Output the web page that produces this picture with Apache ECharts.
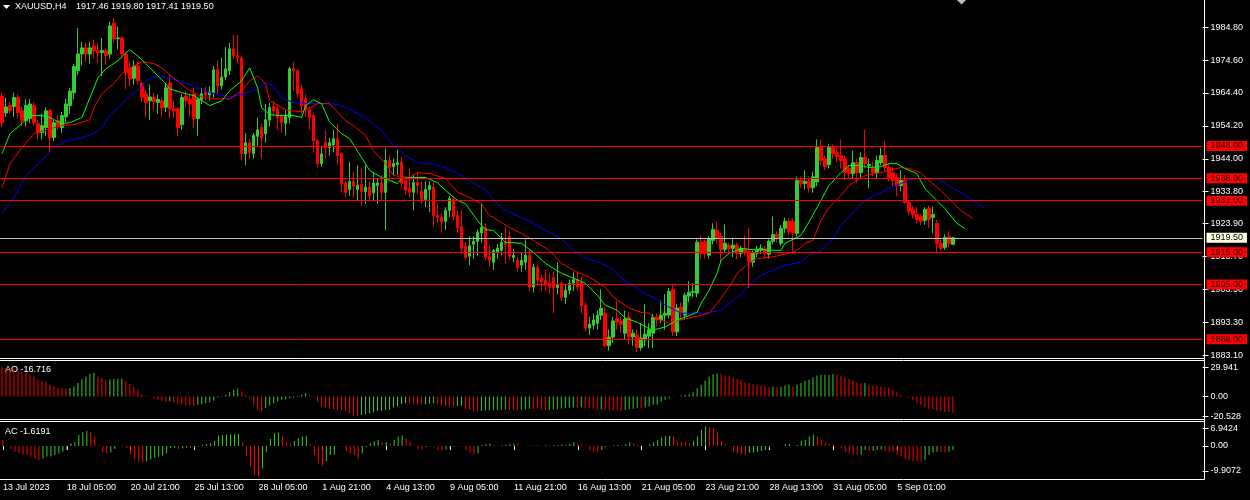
<!DOCTYPE html>
<html><head><meta charset="utf-8">
<script src="https://cdn.jsdelivr.net/npm/echarts@6/dist/echarts.min.js"></script>
<style>html,body{margin:0;padding:0;background:#000;}#c{width:1250px;height:500px;}</style>
</head><body><div id="c"></div>
<script>
// ---------- DATA ----------
const SYMBOL = 'XAUUSD,H4';
const TICK_LABELS = ['13 Jul 2023','18 Jul 05:00','20 Jul 21:00','25 Jul 13:00','28 Jul 05:00','1 Aug 21:00','4 Aug 13:00','9 Aug 05:00','11 Aug 21:00','16 Aug 13:00','21 Aug 05:00','23 Aug 21:00','28 Aug 13:00','31 Aug 05:00','5 Sep 01:00'];
const PRICE_TICKS = [1984.80,1974.60,1964.40,1954.20,1944.00,1933.80,1923.90,1913.70,1903.50,1893.30,1883.10];
const AO_TICKS = [29.941, 0, -20.528];
const AC_TICKS = [6.9424, 0, -9.9072];
const LEVELS = [1948.00,1938.00,1931.00,1915.00,1905.00,1888.00];
// [open, close, high, low]
const CANDLES = [
[1963.5,1955.2,1964.5,1953.8],[1958.2,1960.1,1963.0,1957.0],[1960.5,1959.0,1961.5,1958.0],[1960.2,1963.0,1964.5,1957.0],
[1963.0,1958.3,1964.0,1956.4],[1958.9,1955.8,1960.0,1954.3],[1955.8,1960.5,1962.5,1954.0],[1956.5,1961.0,1962.5,1955.0],
[1960.5,1955.2,1961.5,1954.5],[1954.9,1952.1,1956.0,1950.0],[1952.1,1954.3,1958.0,1950.0],[1953.7,1958.9,1960.0,1951.0],
[1958.9,1950.6,1959.5,1945.9],[1950.6,1955.2,1956.0,1949.5],[1955.8,1954.3,1957.5,1953.0],[1953.7,1957.4,1958.5,1952.0],
[1957.0,1961.0,1962.6,1955.5],[1960.5,1965.0,1966.0,1958.0],[1964.5,1972.6,1973.5,1962.5],[1971.3,1976.5,1984.6,1970.0],
[1976.5,1978.4,1980.3,1973.0],[1978.4,1976.5,1980.0,1974.0],[1976.5,1978.4,1980.3,1973.5],[1979.0,1977.5,1981.0,1975.0],
[1977.5,1976.9,1980.0,1973.7],[1977.0,1977.6,1981.5,1969.7],[1977.5,1976.0,1978.0,1973.0],[1976.5,1985.2,1986.5,1975.0],
[1986.0,1981.2,1987.7,1980.0],[1981.2,1981.5,1985.0,1978.0],[1981.5,1976.5,1982.0,1975.0],[1976.5,1970.7,1977.0,1965.7],
[1972.2,1968.8,1974.0,1966.5],[1969.0,1972.8,1974.5,1967.0],[1972.8,1968.2,1974.0,1967.0],[1967.3,1963.0,1968.0,1961.5],
[1964.2,1961.4,1965.5,1956.8],[1962.0,1963.2,1967.0,1956.0],[1963.0,1961.7,1964.5,1959.0],[1961.5,1962.4,1964.0,1958.0],
[1962.0,1959.9,1963.0,1957.0],[1960.0,1966.0,1967.5,1958.5],[1967.5,1959.5,1970.0,1956.5],[1959.5,1958.9,1962.0,1956.8],
[1959.5,1953.7,1960.0,1951.0],[1954.6,1963.0,1964.0,1953.0],[1963.5,1962.0,1965.0,1960.0],[1962.3,1961.0,1964.0,1957.0],
[1964.0,1956.5,1966.0,1953.4],[1956.5,1962.5,1963.0,1951.0],[1962.3,1964.2,1966.0,1961.0],[1964.8,1963.8,1966.3,1962.0],
[1963.8,1964.8,1966.5,1962.0],[1964.5,1971.6,1972.8,1963.0],[1971.6,1966.6,1974.4,1964.0],[1966.6,1969.4,1975.3,1965.5],
[1969.4,1971.9,1978.7,1968.5],[1971.3,1978.1,1980.0,1970.0],[1978.1,1976.0,1982.4,1975.0],[1976.0,1975.3,1982.4,1973.5],
[1975.3,1945.6,1976.0,1943.5],[1945.6,1949.0,1952.0,1942.0],[1949.0,1946.0,1950.0,1944.0],[1945.6,1951.2,1952.0,1944.0],
[1951.0,1953.0,1956.8,1948.0],[1953.7,1950.6,1955.0,1944.0],[1951.8,1956.1,1961.0,1949.0],[1956.0,1959.9,1961.4,1954.0],
[1960.2,1958.9,1962.0,1957.0],[1959.5,1956.8,1961.0,1953.0],[1957.4,1955.2,1958.0,1952.0],[1955.0,1957.4,1959.0,1951.2],
[1956.8,1971.9,1972.5,1955.0],[1971.9,1971.3,1974.0,1965.0],[1971.3,1964.2,1972.0,1963.0],[1965.7,1960.5,1967.0,1958.0],
[1962.6,1959.5,1964.0,1957.0],[1959.2,1956.8,1960.0,1953.0],[1957.4,1949.6,1958.0,1946.0],[1949.6,1942.5,1950.0,1941.3],
[1942.5,1945.5,1948.0,1941.5],[1949.0,1947.5,1953.0,1944.0],[1947.5,1949.0,1950.5,1945.0],[1948.3,1950.2,1953.0,1946.0],
[1950.2,1945.0,1954.9,1942.0],[1945.6,1936.3,1946.0,1933.5],[1936.5,1933.6,1937.0,1932.0],[1934.5,1937.0,1943.0,1932.5],
[1937.0,1935.5,1940.0,1932.0],[1934.5,1935.8,1942.0,1930.8],[1936.0,1933.8,1941.0,1929.5],[1933.8,1935.2,1942.0,1930.0],
[1935.2,1932.6,1937.0,1931.0],[1933.5,1936.5,1940.0,1931.0],[1935.7,1936.5,1938.0,1930.0],[1936.5,1933.6,1939.0,1931.0],
[1933.6,1943.5,1947.2,1921.8],[1943.5,1941.3,1945.0,1937.3],[1941.5,1942.5,1944.0,1939.0],[1942.2,1942.8,1946.8,1939.0],
[1943.0,1936.4,1944.5,1935.0],[1937.3,1934.2,1938.0,1933.0],[1934.8,1933.6,1941.0,1932.0],[1933.6,1936.6,1939.0,1928.0],
[1936.6,1935.7,1940.0,1933.0],[1933.9,1931.4,1937.0,1930.0],[1931.4,1934.5,1937.0,1929.0],[1934.5,1935.7,1937.0,1927.5],
[1935.2,1926.4,1937.0,1923.0],[1926.4,1925.8,1930.0,1924.0],[1925.8,1924.3,1927.0,1921.0],[1924.6,1928.0,1929.0,1922.0],
[1928.0,1931.7,1932.5,1926.0],[1931.4,1926.1,1932.0,1925.0],[1926.4,1922.7,1928.0,1921.0],[1923.0,1916.2,1928.0,1915.0],
[1916.9,1913.4,1918.0,1912.5],[1913.8,1917.0,1920.0,1911.0],[1917.5,1918.4,1920.0,1913.0],[1918.4,1921.2,1922.0,1914.0],
[1921.0,1922.7,1930.2,1918.0],[1922.7,1913.5,1924.0,1912.5],[1913.8,1912.5,1917.0,1910.5],[1911.9,1915.6,1916.0,1909.5],
[1915.0,1916.3,1917.5,1913.0],[1915.6,1918.1,1921.0,1914.0],[1918.1,1917.5,1922.8,1911.5],[1919.9,1913.8,1921.5,1912.5],
[1913.4,1914.0,1916.0,1912.0],[1912.5,1910.3,1913.5,1909.0],[1911.0,1912.5,1915.0,1909.0],[1911.9,1914.1,1919.0,1909.5],
[1914.1,1904.2,1916.0,1903.0],[1904.2,1910.3,1911.5,1902.5],[1910.3,1906.3,1911.0,1905.0],[1907.0,1905.7,1908.0,1903.0],
[1906.3,1904.8,1909.5,1903.0],[1905.4,1904.2,1908.5,1902.0],[1907.2,1903.9,1909.0,1896.1],[1904.0,1905.0,1911.9,1902.0],
[1905.4,1901.0,1906.0,1900.0],[1901.0,1903.2,1905.0,1899.0],[1903.2,1905.4,1906.5,1902.0],[1905.4,1906.5,1909.0,1903.0],
[1906.6,1904.2,1909.0,1903.0],[1905.7,1898.3,1907.5,1896.0],[1898.6,1891.5,1899.5,1890.5],[1891.5,1892.7,1895.0,1889.3],
[1892.4,1894.0,1896.0,1891.0],[1893.0,1895.5,1897.0,1891.0],[1895.5,1897.6,1903.5,1894.0],[1896.1,1886.0,1898.0,1885.5],
[1886.0,1888.7,1891.0,1884.5],[1888.7,1893.7,1895.0,1887.0],[1894.3,1893.4,1900.0,1891.0],[1893.7,1892.7,1895.0,1890.0],
[1889.9,1894.3,1897.0,1888.0],[1894.9,1888.7,1896.5,1886.5],[1888.7,1889.9,1891.0,1886.0],[1889.3,1885.4,1891.0,1884.0],
[1885.4,1888.4,1893.0,1884.5],[1887.8,1889.6,1898.9,1886.0],[1889.0,1891.0,1893.0,1885.3],[1889.9,1894.9,1896.0,1885.3],
[1894.9,1894.0,1896.0,1892.0],[1894.0,1895.5,1900.0,1893.0],[1895.5,1896.1,1902.0,1891.0],[1895.5,1902.9,1904.0,1894.5],
[1903.5,1890.3,1905.0,1889.0],[1890.3,1897.7,1899.0,1889.0],[1898.0,1896.1,1899.5,1894.0],[1895.5,1901.7,1902.5,1894.0],
[1901.4,1902.6,1906.0,1899.5],[1902.6,1902.9,1905.4,1901.0],[1902.3,1918.1,1919.0,1901.0],[1918.1,1914.7,1920.2,1913.0],
[1918.4,1914.7,1919.0,1913.0],[1914.1,1919.3,1920.0,1913.0],[1918.7,1922.1,1924.0,1917.5],[1921.8,1919.6,1924.5,1918.0],
[1920.0,1915.9,1921.0,1911.6],[1915.9,1917.8,1923.6,1915.0],[1917.2,1916.2,1918.0,1914.5],[1916.2,1917.2,1919.5,1913.5],
[1917.2,1914.7,1918.0,1912.8],[1914.7,1916.2,1917.0,1913.5],[1916.2,1915.0,1920.2,1914.0],[1915.3,1912.2,1922.4,1903.9],
[1911.9,1914.7,1915.5,1910.5],[1914.7,1915.6,1917.0,1913.5],[1915.6,1916.2,1917.5,1914.5],[1916.0,1914.7,1917.0,1913.0],
[1914.4,1918.4,1919.0,1913.0],[1918.4,1920.5,1926.1,1917.5],[1920.5,1919.6,1921.5,1918.0],[1917.8,1922.4,1923.5,1917.0],
[1922.4,1924.6,1925.8,1921.0],[1924.6,1921.5,1925.5,1920.5],[1924.6,1920.9,1925.5,1914.7],[1920.9,1937.3,1938.5,1920.0],
[1937.3,1936.3,1938.5,1935.0],[1936.3,1937.0,1940.5,1934.5],[1937.0,1935.0,1938.5,1933.5],[1935.0,1938.4,1940.0,1933.5],
[1936.8,1947.5,1950.0,1935.5],[1947.5,1943.5,1949.9,1942.0],[1944.0,1941.6,1945.0,1940.5],[1942.2,1947.5,1948.5,1941.0],
[1947.5,1945.6,1948.5,1944.0],[1946.0,1944.7,1947.5,1943.0],[1945.0,1943.5,1950.0,1941.0],[1944.0,1939.7,1945.0,1937.5],
[1941.0,1939.4,1942.0,1938.0],[1939.4,1942.8,1946.5,1938.0],[1942.8,1939.7,1944.0,1936.5],[1939.7,1944.4,1946.0,1938.0],
[1944.4,1942.5,1953.0,1941.0],[1941.9,1942.2,1944.0,1934.8],[1941.3,1939.7,1943.0,1938.5],[1939.7,1943.5,1945.0,1938.0],
[1942.8,1945.0,1947.5,1942.0],[1945.0,1941.3,1949.5,1940.0],[1941.3,1938.2,1942.5,1937.0],[1939.7,1937.3,1941.5,1935.5],
[1938.2,1935.7,1939.5,1932.5],[1935.7,1937.3,1940.5,1934.0],[1937.3,1930.5,1939.0,1930.0],[1930.5,1927.7,1931.0,1926.5],
[1928.3,1926.7,1929.5,1925.5],[1926.7,1925.2,1929.0,1924.0],[1926.1,1924.6,1927.0,1923.5],[1924.9,1928.3,1929.0,1923.5],
[1928.6,1925.2,1929.5,1922.6],[1925.8,1926.7,1929.2,1920.9],[1924.0,1917.8,1925.0,1915.0],[1917.8,1916.2,1919.0,1915.5],
[1916.5,1919.6,1920.5,1915.8],[1919.9,1917.8,1921.5,1916.5],[1917.46,1919.50,1919.80,1917.41]
];
// Alligator lines, [bar index, price] (lines are shifted forward)
const LIPS = [[0,1945.6],[2,1951.8],[5,1954.9],[7,1957.4],[10,1957.4],[12,1956.8],[15,1954.9],[17,1955.2],[20,1956.8],[22,1962.9],[24,1969.1],[26,1971.9],[29,1974.4],[31,1976.9],[32,1977.8],[34,1975.9],[36,1973.5],[39,1969.7],[41,1967.3],[42,1965.7],[45,1964.5],[48,1963.6],[52,1960.5],[55,1962.0],[57,1965.1],[60,1968.2],[62,1972.2],[64,1966.0],[65,1959.8],[67,1957.7],[70,1957.4],[73,1957.4],[75,1956.8],[76,1960.5],[78,1962.3],[80,1961.1],[82,1955.4],[85,1951.8],[87,1950.3],[90,1944.4],[92,1940.4],[95,1938.2],[97,1937.3],[99,1936.3],[100,1937.9],[103,1938.2],[106,1938.2],[109,1936.6],[111,1934.2],[114,1931.1],[116,1930.1],[119,1924.9],[121,1922.0],[123,1921.8],[126,1918.1],[130,1917.8],[133,1915.0],[136,1911.6],[140,1908.5],[143,1907.0],[146,1905.4],[149,1901.7],[151,1898.6],[154,1897.0],[156,1894.6],[159,1893.3],[162,1891.3],[163,1890.9],[166,1891.8],[169,1894.0],[171,1894.9],[174,1896.4],[175,1899.2],[177,1903.2],[179,1908.5],[180,1912.5],[182,1914.7],[185,1916.2],[187,1915.9],[190,1915.9],[193,1915.6],[195,1915.6],[196,1917.8],[199,1919.6],[200,1920.3],[202,1924.4],[205,1931.1],[207,1935.7],[210,1939.7],[212,1941.9],[215,1941.9],[217,1941.3],[220,1941.6],[222,1942.5],[224,1942.5],[226,1941.0],[229,1939.4],[231,1934.8],[234,1931.1],[236,1928.6],[239,1924.0],[241,1922.4]];
const TEETH = [[0,1935.1],[2,1942.5],[5,1947.5],[8,1951.8],[12,1953.3],[15,1954.3],[18,1954.6],[22,1956.1],[23,1959.8],[25,1964.2],[28,1967.3],[30,1970.4],[33,1972.8],[35,1974.1],[38,1973.5],[40,1972.2],[43,1969.0],[47,1965.1],[50,1963.2],[53,1962.6],[57,1962.6],[60,1965.1],[62,1968.2],[64,1969.7],[66,1967.3],[67,1962.0],[70,1959.8],[72,1958.9],[75,1958.6],[77,1959.8],[79,1961.1],[82,1961.1],[86,1955.8],[88,1954.3],[91,1951.2],[93,1946.5],[96,1942.5],[98,1938.8],[102,1938.2],[104,1939.7],[107,1939.4],[111,1937.9],[114,1933.6],[117,1932.0],[120,1930.1],[122,1926.4],[123,1925.8],[127,1922.7],[130,1920.9],[133,1918.7],[137,1915.6],[140,1911.6],[144,1908.8],[147,1907.3],[151,1904.2],[153,1901.1],[157,1897.7],[160,1896.4],[162,1896.1],[163,1894.9],[167,1893.0],[170,1894.0],[173,1894.9],[177,1896.1],[179,1899.2],[182,1904.2],[184,1908.5],[187,1911.6],[189,1913.1],[192,1913.4],[195,1914.1],[198,1915.0],[200,1916.5],[201,1917.8],[203,1918.7],[205,1924.9],[207,1928.9],[210,1932.6],[212,1935.7],[215,1938.2],[217,1939.1],[220,1939.7],[222,1940.4],[225,1941.3],[227,1941.0],[230,1939.7],[232,1937.3],[235,1934.2],[237,1931.7],[240,1928.0],[243,1925.5]];
const JAW = [[0,1927.1],[3,1932.0],[6,1938.8],[10,1943.5],[13,1947.5],[16,1949.6],[20,1950.6],[23,1951.8],[25,1953.7],[27,1957.4],[30,1961.1],[32,1963.6],[35,1966.0],[36,1968.2],[38,1969.4],[40,1969.4],[43,1968.8],[48,1966.6],[52,1964.5],[57,1963.2],[60,1963.9],[64,1965.7],[66,1967.6],[68,1966.6],[70,1962.9],[73,1961.4],[77,1961.1],[80,1961.1],[82,1961.4],[86,1960.0],[89,1958.0],[92,1955.8],[95,1952.7],[98,1948.1],[101,1945.0],[104,1942.8],[107,1942.5],[111,1941.3],[115,1938.8],[119,1935.7],[121,1934.5],[123,1931.1],[126,1928.0],[130,1925.8],[133,1924.0],[136,1921.8],[140,1919.3],[143,1915.6],[146,1913.4],[150,1911.6],[153,1909.7],[155,1907.0],[159,1903.9],[161,1902.0],[163,1901.1],[166,1898.6],[170,1896.1],[173,1896.1],[176,1896.1],[180,1897.0],[182,1899.2],[185,1901.7],[187,1904.8],[190,1907.9],[193,1909.4],[196,1911.0],[200,1911.9],[202,1914.1],[205,1915.6],[208,1919.3],[210,1923.4],[213,1927.1],[215,1930.2],[218,1932.3],[221,1934.2],[225,1936.3],[228,1937.9],[231,1937.9],[234,1937.9],[237,1935.7],[240,1933.5],[243,1931.1],[246,1928.6]];
const AO = [
29.941,29.2,28.6,27.5,25.8,25.5,24.1,22.4,20.6,17.2,
15.5,14.8,12.0,10.3,8.6,8.4,7.9,8.6,10.3,13.8,
18.2,20.6,23.0,24.1,20.6,18.9,17.2,17.4,17.9,18.2,
18.4,15.5,12.7,9.6,6.9,2.4,1.0,0.2,-1.7,-3.4,
-4.5,-5.2,-5.0,-5.8,-6.9,-7.9,-8.6,-9.3,-9.5,-8.6,
-7.9,-6.9,-5.8,-4.5,-1.0,0.3,1.7,4.5,6.9,7.9,
5.8,1.7,-1.7,-8.6,-13.8,-15.5,-12.0,-9.3,-6.9,-5.2,
-3.4,-2.8,-1.7,-1.0,0.5,1.7,3.4,1.7,-0.7,-5.2,
-10.3,-11.4,-12.6,-12.8,-13.7,-13.9,-14.8,-17.2,-19.6,-20.528,
-18.9,-18.2,-17.2,-16.2,-14.9,-14.7,-13.8,-13.6,-11.4,-10.3,
-7.6,-6.6,-6.8,-7.4,-8.1,-8.3,-7.9,-7.2,-6.9,-7.9,
-9.2,-10.3,-10.5,-10.6,-9.8,-9.5,-12.7,-13.7,-14.7,-15.4,
-14.8,-14.5,-14.2,-14.0,-13.8,-13.5,-13.3,-13.6,-13.8,-14.0,
-13.5,-13.0,-12.6,-12.8,-13.2,-13.5,-13.8,-13.5,-13.2,-12.8,
-12.4,-12.0,-11.6,-11.4,-11.6,-11.0,-11.5,-12.2,-12.8,-13.3,
-13.0,-13.3,-13.6,-13.9,-14.1,-14.5,-13.8,-13.2,-12.6,-12.0,
-12.2,-11.3,-10.3,-8.6,-7.9,-5.1,-3.4,-1.7,-0.2,0.1,
1.0,1.7,2.4,4.4,8.5,11.9,16.1,20.5,22.9,23.9,
23.3,21.6,21.5,19.5,18.1,17.1,14.7,13.7,12.7,12.0,
11.3,10.6,9.9,10.2,9.8,10.3,11.3,12.0,10.3,12.0,
13.7,16.1,17.1,19.8,21.5,22.2,22.3,22.4,23.0,22.9,
21.5,19.8,18.1,16.1,14.7,13.7,13.8,12.0,11.3,10.9,
10.3,9.2,8.6,6.8,4.4,1.7,0.3,-1.2,-3.4,-6.8,
-8.6,-11.0,-12.6,-13.4,-14.4,-15.2,-15.8,-16.3,-16.716];
const AC = [
2.4,0.2,-1.2,-2.3,-3.0,-3.4,-3.6,-4.3,-5.0,-5.7,
-5.0,-4.3,-4.2,-3.6,-3.0,-2.3,-1.6,1.1,1.5,4.5,
5.5,6.1,5.5,3.8,0.4,-2.3,-3.0,-2.6,-1.2,-0.1,
-0.3,-0.9,-3.4,-5.3,-6.3,-6.6,-6.1,-5.3,-4.7,-4.3,
-3.9,-3.0,-0.9,-0.7,-1.2,-0.9,-0.7,-0.9,-0.6,-0.3,
0.4,0.7,1.1,2.0,4.2,4.4,4.5,4.6,4.7,4.8,
1.5,-3.9,-8.4,-11.5,-12.0,-9.0,-2.3,2.8,5.1,5.4,
3.8,1.5,1.1,2.0,3.1,3.8,3.9,0.7,-3.6,-7.0,
-8.0,-6.1,-3.6,-3.4,-0.1,-0.2,-2.0,-3.0,-3.6,-5.0,
-3.0,-0.5,1.1,2.0,2.4,1.5,1.6,1.1,2.4,3.8,
4.2,3.1,1.5,0.2,-1.2,-1.6,-0.4,-0.1,-0.3,-1.6,
-1.7,-1.4,-0.9,-0.3,-0.1,-0.2,-1.6,-2.6,-3.4,-3.0,
0.4,0.7,1.0,0.3,0.1,0.3,0.5,0.7,1.0,0.9,
0.2,0.1,-0.3,0.1,0.2,0.1,0.3,0.2,0.3,0.4,
0.6,0.5,0.9,1.5,1.0,0.7,0.1,-1.6,-2.3,-2.6,
-1.6,-0.4,0.1,0.3,0.4,0.3,0.7,1.5,1.0,0.4,
0.1,0.05,0.7,1.5,2.4,3.4,3.9,4.1,4.0,1.8,
1.5,1.4,1.1,2.0,3.8,6.5,7.8,7.4,7.3,5.5,
2.0,0.4,-0.3,-2.3,-3.0,-3.4,-3.5,-2.7,-2.6,-2.3,
-2.0,-1.6,-0.9,0.1,0.05,0.1,0.7,0.8,0.1,0.4,
2.0,2.4,3.8,4.5,3.8,2.4,1.1,0.7,0.6,0.1,
-0.9,-2.3,-3.0,-3.4,-3.6,-3.4,-1.6,-2.0,-1.9,-1.6,
-1.4,-2.0,-2.3,-2.6,-3.6,-4.3,-5.3,-5.7,-6.1,-6.2,
-6.3,-5.7,-3.6,-2.6,-2.3,-2.5,-2.6,-2.2,-1.6191];

// ---------- CHART ----------
const SLOTS = 301;           // bar slots across the window (incl. empty right margin)
const FONT = 'Liberation Sans';
const FG = '#ffffff';
const FRAME = '#fffff0';
const BULL = '#32cd32', BEAR = '#ff0000';
const cats = Array.from({length: SLOTS}, (_, i) => String(i));
const isTick = (i) => i % 16 === 0 && (i / 16) < TICK_LABELS.length;
function toSlots(pairs) { const a = new Array(SLOTS).fill(null); pairs.forEach(([i, v]) => { a[i] = v; }); return a; }
// split a histogram into rising (green) and falling (red) parts
const rising = (arr) => arr.map((v, i) => (i > 0 && v > arr[i - 1]) ? v : '-');
const falling = (arr) => arr.map((v, i) => (i > 0 && v > arr[i - 1]) ? '-' : v);
const last = CANDLES[CANDLES.length - 1];
const LAST_PRICE = last[1];

const chart = echarts.init(document.getElementById('c'), null, { renderer: 'canvas' });
// 301 slots x 4 px = 1204 px plot width; slot centres fall on x = 4i + 0.5
const gridBase = { left: -1.5, right: 47.5, show: false };
const lblStyle = { color: FG, fontSize: 9, fontFamily: FONT };

const levelLines = LEVELS.map(p => ({
  yAxis: p,
  lineStyle: { color: '#ff0000', width: 1, type: 'solid' },
  label: { show: true, position: 'end', distance: 4, formatter: p.toFixed(2), backgroundColor: '#ff0000', color: '#200000', padding: [1, 4, 0, 4], fontSize: 9, fontFamily: FONT }
}));
levelLines.push({
  yAxis: LAST_PRICE,
  lineStyle: { color: '#c0c0c0', width: 1, type: 'solid' },
  label: { show: true, position: 'end', distance: 4, formatter: LAST_PRICE.toFixed(2), backgroundColor: '#ffffe0', color: '#000000', padding: [1, 4, 0, 4], fontSize: 9, fontFamily: FONT }
});

// window frame (decoration lines)
const FR_R = 1204.5;
const frameLines = [
  [[FR_R, 0], [FR_R, 479.5]],
  [[0, 358.5], [FR_R, 358.5]],
  [[0, 360.5], [FR_R, 360.5]],
  [[0, 419.5], [FR_R, 419.5]],
  [[0, 421.5], [FR_R, 421.5]],
  [[0, 479.5], [FR_R, 479.5]]
].map(([a, b]) => ({ type: 'line', silent: true, z: 100, shape: { x1: a[0], y1: a[1], x2: b[0], y2: b[1] }, style: { stroke: FRAME, lineWidth: 1 } }));

function histo(arr, idx) {
  const base = { type: 'bar', xAxisIndex: idx, yAxisIndex: idx, barWidth: 1, barGap: '-100%', silent: true,
    large: true, largeThreshold: 10, emphasis: { disabled: true }, animation: false };
  return [
    Object.assign({}, base, { data: rising(arr), itemStyle: { color: BULL, borderWidth: 0, opacity: 1 } }),
    Object.assign({}, base, { data: falling(arr), itemStyle: { color: BEAR, borderWidth: 0, opacity: 1 } })
  ];
}

const option = {
  backgroundColor: '#000000',
  animation: false,
  grid: [
    Object.assign({ top: -1, height: 359 }, gridBase),
    Object.assign({ top: 360, height: 59 }, gridBase),
    Object.assign({ top: 421, height: 58 }, gridBase)
  ],
  xAxis: [0, 1, 2].map(g => ({
    type: 'category', gridIndex: g, data: cats, boundaryGap: true, show: g === 2,
    axisLine: { show: false },
    axisTick: { show: true, length: 4, alignWithLabel: true, interval: (i) => isTick(i), lineStyle: { color: FRAME } },
    axisLabel: Object.assign({ interval: (i) => isTick(i), formatter: (v, i) => TICK_LABELS[i / 16] || '', align: 'left', margin: 4 }, lblStyle),
    splitLine: { show: false }
  })),
  yAxis: [
    { type: 'value', gridIndex: 0, position: 'right', min: 1882.21, max: 1993.25,
      axisLine: { show: false }, splitLine: { show: false },
      axisTick: { show: true, length: 6, lineStyle: { color: FRAME }, customValues: PRICE_TICKS },
      axisLabel: Object.assign({ customValues: PRICE_TICKS, formatter: v => v.toFixed(2), margin: 8 }, lblStyle) },
    { type: 'value', gridIndex: 1, position: 'right', min: -23.1, max: 37.4,
      axisLine: { show: false }, splitLine: { show: false },
      axisTick: { show: true, length: 6, lineStyle: { color: FRAME }, customValues: AO_TICKS },
      axisLabel: Object.assign({ customValues: AO_TICKS, formatter: v => v === 0 ? '0.00' : String(v), margin: 8 }, lblStyle) },
    { type: 'value', gridIndex: 2, position: 'right', min: -13.2, max: 10.0,
      axisLine: { show: false }, splitLine: { show: false },
      axisTick: { show: true, length: 6, lineStyle: { color: FRAME }, customValues: AC_TICKS },
      axisLabel: Object.assign({ customValues: AC_TICKS, formatter: v => v === 0 ? '0.00' : String(v), margin: 8 }, lblStyle) }
  ],
  series: [
    { type: 'candlestick', xAxisIndex: 0, yAxisIndex: 0, barWidth: 3,
      data: CANDLES.map(([o, c, h, l]) => [o, c, l, h]),
      itemStyle: { color: BULL, color0: BEAR, borderColor: BULL, borderColor0: BEAR, borderWidth: 1 },
      markLine: { silent: true, symbol: ['none', 'none'], animation: false, data: levelLines }
    },
    { type: 'line', xAxisIndex: 0, yAxisIndex: 0, data: toSlots(JAW), connectNulls: true, showSymbol: false, symbol: 'none', lineStyle: { color: '#0000ff', width: 1 }, z: 3 },
    { type: 'line', xAxisIndex: 0, yAxisIndex: 0, data: toSlots(TEETH), connectNulls: true, showSymbol: false, symbol: 'none', lineStyle: { color: '#ff0000', width: 1 }, z: 3 },
    { type: 'line', xAxisIndex: 0, yAxisIndex: 0, data: toSlots(LIPS), connectNulls: true, showSymbol: false, symbol: 'none', lineStyle: { color: '#00ff00', width: 1 }, z: 3 }
  ].concat(histo(AO, 1), histo(AC, 2)),
  graphic: frameLines.concat([
    { type: 'polygon', shape: { points: [[3, 5], [10, 5], [6.5, 9]] }, style: { fill: '#ffffff' } },
    { type: 'text', x: 15, y: 7, style: { text: SYMBOL, fill: FG, fontSize: 9, fontFamily: FONT, verticalAlign: 'middle' } },
    { type: 'text', x: 76, y: 7, style: { text: [last[0], last[2], last[3], last[1]].map(v => v.toFixed(2)).join(' '), fill: FG, fontSize: 9, fontFamily: FONT, verticalAlign: 'middle' } },
    { type: 'polygon', shape: { points: [[957, 0], [966, 0], [961.5, 4.5]] }, style: { fill: '#c0c0c0' } },
    { type: 'text', x: 5, y: 370, style: { text: 'AO ' + AO[AO.length - 1], fill: FG, fontSize: 9, fontFamily: FONT, verticalAlign: 'middle' } },
    { type: 'text', x: 5, y: 432, style: { text: 'AC ' + AC[AC.length - 1], fill: FG, fontSize: 9, fontFamily: FONT, verticalAlign: 'middle' } }
  ])
};
chart.setOption(option);
</script>
</body></html>
